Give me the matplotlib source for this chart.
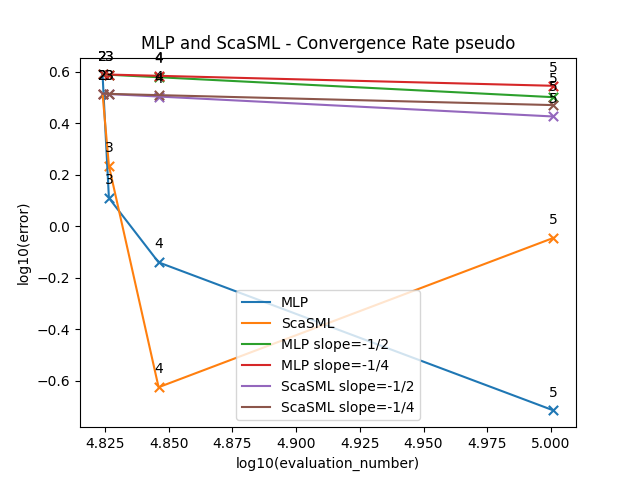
import matplotlib
matplotlib.use("Agg")
import matplotlib.pyplot as plt
import numpy as np

x = np.array([4.8240, 4.8265, 4.8460, 5.0010])
labels = ["2", "3", "4", "5"]
mlp = np.array([0.590, 0.110, -0.140, -0.715])
scasml = np.array([0.515, 0.235, -0.625, -0.045])

def slope_line(y0, s):
    return y0 + s * (x - x[0])

series = [
    ("MLP", mlp),
    ("ScaSML", scasml),
    ("MLP slope=-1/2", slope_line(mlp[0], -0.5)),
    ("MLP slope=-1/4", slope_line(mlp[0], -0.25)),
    ("ScaSML slope=-1/2", slope_line(scasml[0], -0.5)),
    ("ScaSML slope=-1/4", slope_line(scasml[0], -0.25)),
]

fig, ax = plt.subplots(figsize=(6.4, 4.8), dpi=100)
for i, (name, y) in enumerate(series):
    c = f"C{i}"
    ax.plot(x, y, color=c, label=name)
    ax.scatter(x, y, marker="x", s=45, color=c, linewidths=1.5)
    for xi, yi, lab in zip(x, y, labels):
        ax.annotate(lab, (xi, yi), textcoords="offset points", xytext=(0, 10), ha="center")
ax.set_title("MLP and ScaSML - Convergence Rate pseudo")
ax.set_xlabel("log10(evaluation_number)")
ax.set_ylabel("log10(error)")
ax.legend(loc="lower center")
fig.savefig("out.png")
